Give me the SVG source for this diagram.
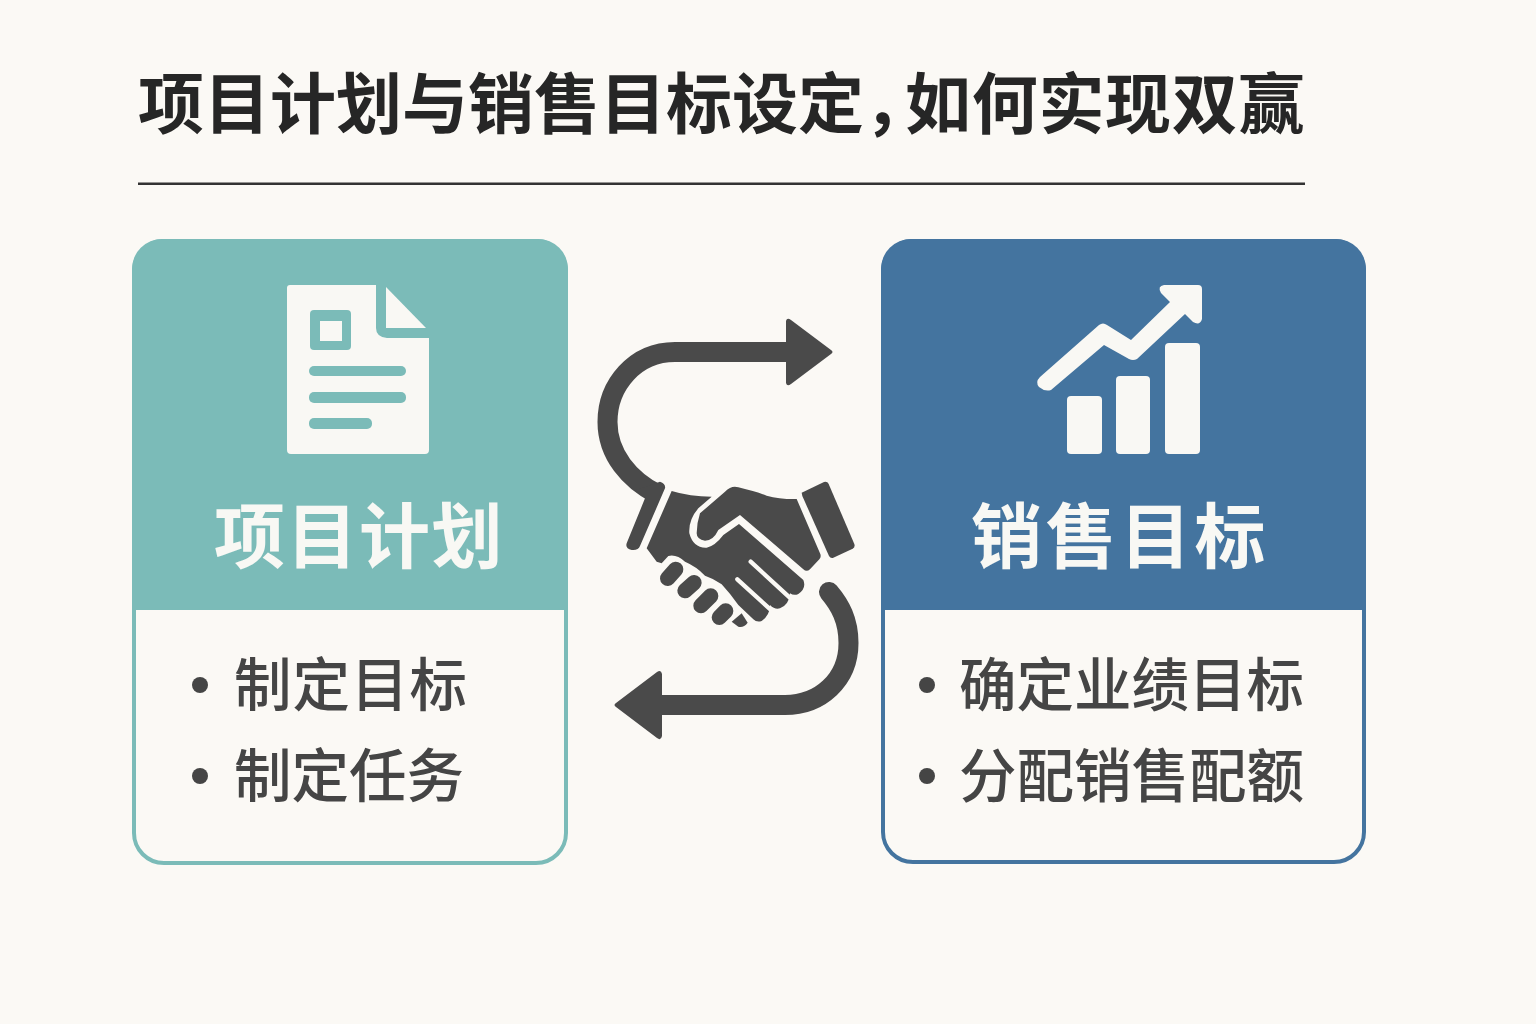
<svg xmlns="http://www.w3.org/2000/svg" width="1536" height="1024" viewBox="0 0 1536 1024">
<style>
text{font-family:"Noto Sans CJK SC","Liberation Sans",sans-serif}
.title{font-size:66px;font-weight:700;fill:#262626}
.head{font-size:71px;font-weight:700;fill:#f8f8f4}
.item{font-size:57.5px;font-weight:500;fill:#454545}
.dot{fill:#454545}
.bg{fill:#fbf9f5}
.dark{fill:#4a4a4a}
.flow{fill:none;stroke:#4a4a4a;stroke-width:20}
.cut{fill:none;stroke:#fbf9f5;stroke-width:13;stroke-linecap:round;stroke-linejoin:round}
.teal{fill:#7bbbb8}
.blue{fill:#44749f}
.ico{fill:#f9f8f4}
</style>
<rect width="1536" height="1024" class="bg"/>
<g id="title">
<text class="title" x="138" y="128">项目计划与销售目标设定，<tspan x="905" letter-spacing=".7">如何实现双赢</tspan></text>
<rect x="138" y="182.500" width="1167" height="2.500" fill="#333"/>
</g>
<g id="node-plan">
<rect x="134" y="241" width="432" height="622" rx="30" fill="#fbf9f5" stroke="#7bbbb8" stroke-width="4"/>
<path class="teal" d="M132 610V269a30 30 0 0 1 30-30H538a30 30 0 0 1 30 30V610Z"/>
<path class="ico" d="M290 285H376V328Q376 337 387 338H429V450Q429 454 425 454H291Q287 454 287 450V288Q287 285 290 285Z"/>
<path class="ico" d="M386 287L426 328H386Z"/>
<rect class="teal" x="310" y="310" width="41" height="40" rx="4"/>
<rect class="ico" x="320" y="321" width="22" height="20"/>
<rect class="teal" x="309" y="366" width="97" height="10" rx="5"/>
<rect class="teal" x="309" y="392" width="97" height="11" rx="5"/>
<rect class="teal" x="309" y="418" width="63" height="11" rx="5"/>
<text class="head" x="214" y="562" letter-spacing="1.500">项目计划</text>
<circle class="dot" cx="200" cy="685" r="8"/>
<text class="item" x="234" y="706" letter-spacing="1">制定目标</text>
<circle class="dot" cx="200" cy="776" r="8"/>
<text class="item" x="234" y="797">制定任务</text>
</g>
<g id="node-sales">
<rect x="883" y="241" width="481" height="621" rx="30" fill="#fbf9f5" stroke="#44749f" stroke-width="4"/>
<path class="blue" d="M881 610V269a30 30 0 0 1 30-30H1336a30 30 0 0 1 30 30V610Z"/>
<rect class="ico" x="1067" y="396" width="35" height="58" rx="4"/>
<rect class="ico" x="1116" y="376" width="34" height="78" rx="4"/>
<rect class="ico" x="1165" y="343" width="35" height="111" rx="4"/>
<path class="ico" d="M1040 377L1099 325Q1103 322 1107 325L1131 340L1170 302L1161 293Q1157 286 1164 285H1198Q1202 285 1202 289V319Q1200 326 1193 322L1185 314L1137 359Q1133 361 1129 359L1104 345L1051 390Q1045 392 1039 387Q1035 382 1040 377Z"/>
<text class="head" x="971" y="562" letter-spacing="3.500">销售目标</text>
<circle class="dot" cx="927" cy="685" r="8"/>
<text class="item" x="959" y="706">确定业绩目标</text>
<circle class="dot" cx="927" cy="776" r="8"/>
<text class="item" x="959" y="797">分配销售配额</text>
</g>
<g id="connectors">
<path class="flow" d="M790 352H675C635 352 607.500 385 607.500 422C607.500 455 630 480 657 494"/>
<path class="dark" d="M786 321Q787 317 791 320L831 350Q834 352 831 354L791 384Q787 387 786 383Z"/>
<path class="flow" stroke-linecap="round" d="M829 592C840 605 848.500 620 848.500 643C848.500 680 820 705 785 705H655"/>
<path class="dark" d="M662 674Q661 669 657 672L616 703Q613 705 616 707L657 738Q661 741 662 736Z"/>
</g>
<g id="node-handshake" transform="translate(590 300) scale(.33333)">
<path class="dark" d="M225 565L150 738Q145 752 125 750Q105 745 110 730L165 595L140 570L210 545Q228 552 225 565Z"/>
<path class="dark" d="M635 578L702 546Q712 543 716 552L793 732Q796 742 788 746L730 773Q722 776 717 768L637 588Z"/>
<path class="dark" d="M245 573Q300 590 365 590L325 625Q295 660 298 700Q310 745 350 743Q375 738 400 705L447 672L640 840Q650 865 625 882Q612 888 600 880Q597 915 570 925Q555 930 540 915Q540 945 515 963Q500 968 490 958L445 915Q420 880 395 853Q370 835 345 827Q320 800 285 785Q260 762 235 768L215 790L200 785L170 745Z"/>
<path class="dark" d="M330 640L405 575Q425 555 445 562Q500 575 530 587Q570 598 620 597L690 760Q695 770 688 778L660 808Q650 817 640 808L450 645L385 690Q370 722 345 722Q320 718 320 700Q320 670 330 640Z"/>
<path class="cut" d="M482 785L605 898M442 838L545 932"/>
<g fill="none" stroke="#4a4a4a" stroke-width="46" stroke-linecap="round">
<path d="M233 835L257 808"/><path d="M285 872L312 848"/><path d="M333 917L362 888"/><path d="M388 952L407 933"/>
</g>
<path class="dark" d="M425 965L455 940L473 968Q460 985 445 980Z"/>
</g>
</svg>
